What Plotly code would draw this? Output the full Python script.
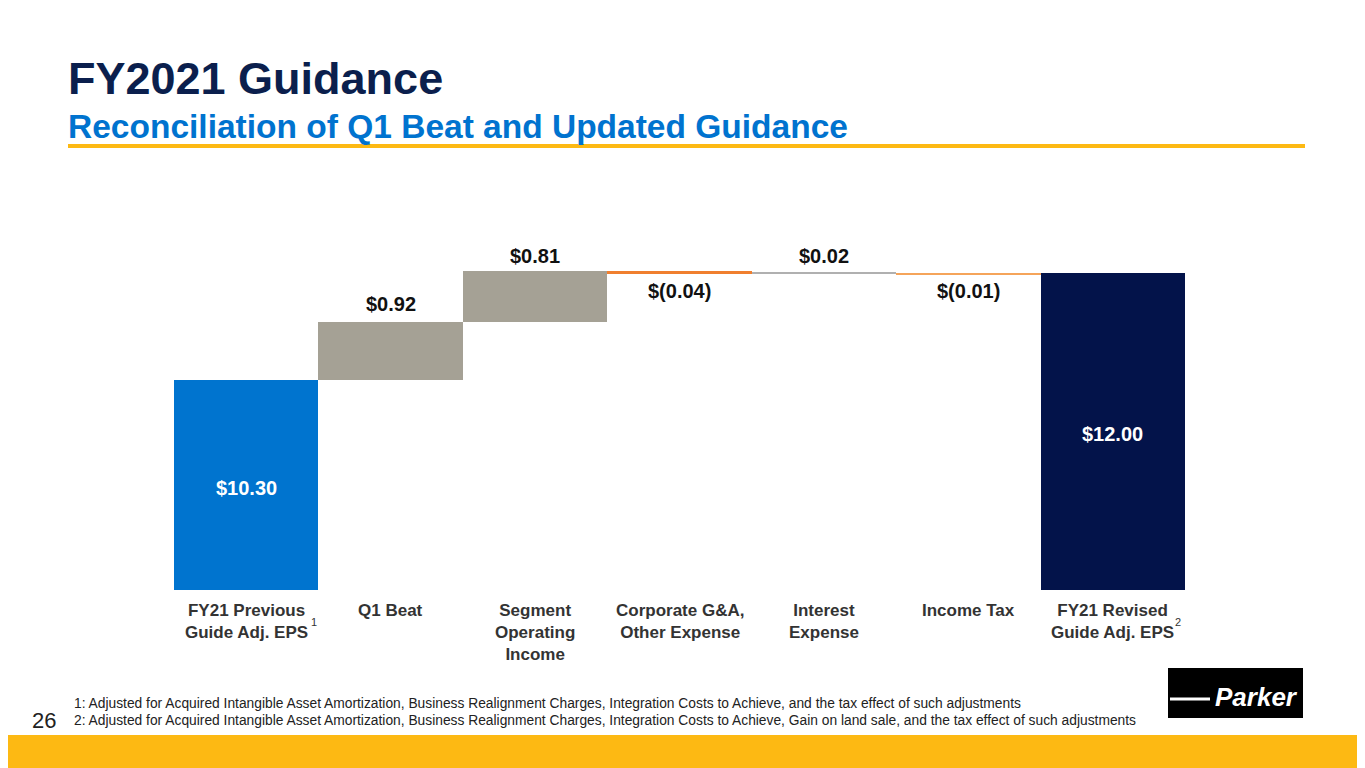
import plotly.graph_objects as go

categories = ["FY21 Previous<br>Guide Adj. EPS", "Q1 Beat", "Segment<br>Operating<br>Income",
              "Corporate G&A,<br>Other Expense", "Interest<br>Expense", "Income Tax",
              "FY21 Revised<br>Guide Adj. EPS"]
deltas = [10.30, 0.92, 0.81, -0.04, 0.02, -0.01, 12.00]
labels = ["$10.30", "$0.92", "$0.81", "$(0.04)", "$0.02", "$(0.01)", "$12.00"]
colors = ["#0074cf", "#a5a195", "#a5a195", "#f07f2e", "#b0b0b0", "#f5a45a", "#03134a"]

ymin, ymax = 6.96, 13.96
OFF = 8
W, H = 1365 - OFF, 768 - OFF
L, R, T, B = 174, 1185, 150, 590  # rendered pixel positions of plot area

bases, tops = [], []
run = 0
for i, d in enumerate(deltas):
    if i == 0 or i == len(deltas) - 1:
        bases.append(0); tops.append(d); run = d
    else:
        bases.append(run); run += d; tops.append(run)
heights = [t - b for t, b in zip(tops, bases)]
heights = [h if abs(h) > 0.03 else (0.035 if h >= 0 else -0.035) for h in heights]

fig = go.Figure(go.Bar(x=list(range(7)), y=heights, base=bases, marker_color=colors,
                       marker_line_width=0, width=1.0, hoverinfo="skip"))

def py(p):
    return (B - p) / (B - T)
def px_x(x):
    return (x - L) / (R - L)

ann_pos = {0: (488, "white"), 1: (304, "#111"), 2: (256, "#111"), 3: (291, "#111"),
           4: (256, "#111"), 5: (291, "#111"), 6: (434, "white")}
annotations = []
for i, lab in enumerate(labels):
    y, c = ann_pos[i]
    annotations.append(dict(x=i, y=py(y), xref="x", yref="paper", text="<b>%s</b>" % lab,
                            showarrow=False, yanchor="middle",
                            font=dict(family="Arial", size=20, color=c)))
for i, c in enumerate(categories):
    annotations.append(dict(x=i, y=py(599), xref="x", yref="paper", yanchor="top",
                            text="<b>%s</b>" % c, showarrow=False, align="center",
                            font=dict(family="Arial", size=17, color="#333")))
for x, txt in [(0.47, "1"), (6.45, "2")]:
    annotations.append(dict(x=x, y=py(622), xref="x", yref="paper", text=txt, showarrow=False,
                            yanchor="middle", font=dict(family="Arial", size=11, color="#333")))

page_ann = [
    (66, 78, "FY2021 Guidance", 45, "#0b1f4d", True),
    (66, 126, "Reconciliation of Q1 Beat and Updated Guidance", 33.5, "#0073cf", True),
    (72, 703, "1: Adjusted for Acquired Intangible Asset Amortization, Business Realignment Charges, Integration Costs to Achieve, and the tax effect of such adjustments", 13.8, "#222", False),
    (72, 720, "2: Adjusted for Acquired Intangible Asset Amortization, Business Realignment Charges, Integration Costs to Achieve, Gain on land sale, and the tax effect of such adjustments", 13.8, "#222", False),
    (30, 720, "26", 22, "#222", False),
]
for x, y, t, s, c, b in page_ann:
    annotations.append(dict(x=px_x(x), y=py(y), xref="paper", yref="paper",
                            text="<b>%s</b>" % t if b else t, showarrow=False,
                            xanchor="left", yanchor="middle", font=dict(family="Arial", size=s, color=c)))
annotations.append(dict(x=px_x(1300), y=py(697), xref="paper", yref="paper", text="<b><i>Parker</i></b>",
                        showarrow=False, xanchor="right", yanchor="middle",
                        font=dict(family="Arial", size=26, color="white")))

shapes = [
    dict(type="line", xref="paper", yref="paper", x0=px_x(68), x1=px_x(1305), y0=py(146), y1=py(146),
         line=dict(color="#fdb913", width=4)),
    dict(type="rect", xref="paper", yref="paper", x0=px_x(0), x1=px_x(1370), y0=py(735), y1=py(775),
         fillcolor="#fdb913", line_width=0),
    dict(type="rect", xref="paper", yref="paper", x0=px_x(1168), x1=px_x(1303), y0=py(668), y1=py(718),
         fillcolor="black", line_width=0),
    dict(type="line", xref="paper", yref="paper", x0=px_x(1170), x1=px_x(1210), y0=py(699), y1=py(699),
         line=dict(color="white", width=3)),
]

fig.update_layout(width=W, height=H,
                  margin=dict(l=L - OFF, r=W + OFF - R, t=T - OFF, b=H + OFF - B),
                  paper_bgcolor="white", plot_bgcolor="white", showlegend=False, bargap=0,
                  xaxis=dict(range=[-0.5, 6.5], visible=False),
                  yaxis=dict(range=[ymin, ymax], visible=False),
                  annotations=annotations, shapes=shapes)
fig.write_html("out.html")
